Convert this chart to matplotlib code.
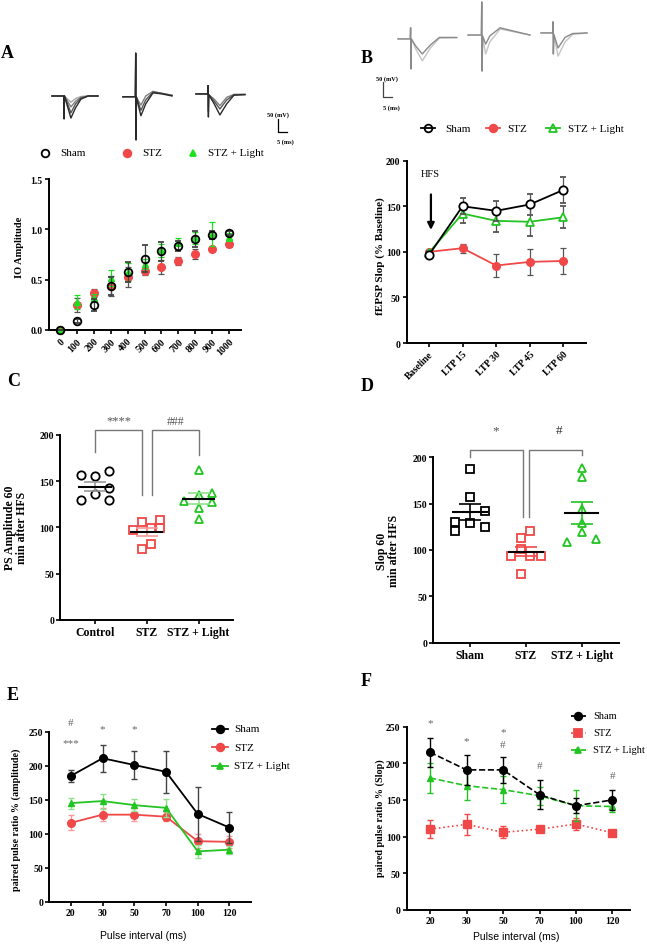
import numpy as np
import matplotlib.pyplot as plt
from matplotlib.lines import Line2D

W, H = 647, 945
plt.rcParams['font.family'] = ['Liberation Serif', 'DejaVu Serif']

BLACK = 'black'
RED = '#f04848'
RED_L = '#f59b9b'
GREEN = '#22c422'
GREEN_A = '#1ee01e'
GREEN_L = '#8fe08f'
GRAY = '#777777'

# ---------------- data ----------------
# A: input/output curve
io_x = [0, 100, 200, 300, 400, 500, 600, 700, 800, 900, 1000]
io_sham = [0, 0.09, 0.245, 0.44, 0.58, 0.71, 0.78, 0.83, 0.90, 0.94, 0.965]
io_sham_err = [0, 0.02, 0.06, 0.09, 0.10, 0.13, 0.09, 0.05, 0.08, 0.04, 0.02]
io_stz = [0, 0.25, 0.37, 0.44, 0.53, 0.59, 0.63, 0.69, 0.755, 0.80, 0.85]
io_stz_err = [0, 0.07, 0.04, 0.10, 0.10, 0.04, 0.07, 0.04, 0.05, 0.02, 0.03]
io_light = [0, 0.28, 0.32, 0.52, 0.58, 0.66, 0.79, 0.87, 0.91, 0.95, 0.92]
io_light_err = [0, 0.07, 0.04, 0.08, 0.09, 0.05, 0.06, 0.04, 0.06, 0.12, 0.04]

# A / B example traces (ms, mV)
a_tr1_t = [3.9, 10.4, 10.6, 10.8, 12.5, 14.4, 17.0, 20.0, 24.0, 29.4]
a_tr1_v = [[0, 0, -88, 0, -40, -85, -45, -12, 0, 0],
           [0, 0, -88, 0, -30, -65, -30, -8, 0, 0],
           [0, 0, -60, 0, -20, -42, -20, -5, 0, 0],
           [0, 0, -40, 0, -12, -24, -10, -2, 0, 0]]
a_tr2_t = [43.3, 50.2, 50.4, 50.6, 50.8, 52.0, 53.3, 56.0, 60.0, 65.0, 70.6]
a_tr2_v = [[-3, -3, 165, -169, -5, -40, -76, -30, 12, 8, 0],
           [-3, -3, 165, -169, -5, -30, -55, -15, 15, 10, 2],
           [-3, -3, 120, -120, -5, -20, -35, 0, 18, 10, 3]]
a_tr3_t = [83.9, 90.4, 90.6, 90.8, 91.0, 94.0, 97.2, 101.0, 105.0, 111.1]
a_tr3_v = [[8, 8, 40, -81, 5, -30, -73, -30, 3, 5],
           [8, 8, 40, -60, 5, -20, -50, -15, 5, 6],
           [8, 8, 30, -40, 5, -12, -37, -5, 6, 6]]

b_tr1_t = [10, 16.8, 17.0, 17.2, 17.4, 20.0, 23.5, 28.0, 33.0, 42.6]
b_tr1_v = [[0, 0, 37, -100, 0, -25, -50, -20, 5, 5],
           [0, 0, 37, -100, 0, -35, -73, -30, 3, 4]]
b_tr2_t = [48.9, 56.3, 56.5, 56.7, 57.0, 58.7, 61.0, 66.7, 75.0, 83.3]
b_tr2_v = [[13, 13, 123, -107, 10, -17, 10, 37, 25, 13],
           [13, 13, 123, -107, 5, -50, -10, 33, 23, 13]]
b_tr3_t = [89.4, 95.9, 96.1, 96.3, 96.6, 98.9, 102.8, 107.0, 115.0]
b_tr3_v = [[20, 20, 57, -50, 15, -30, 5, 18, 20],
           [20, 20, 57, -50, 10, -57, -10, 15, 20]]

# B: LTP time course
ltp_labels = ['Baseline', 'LTP 15', 'LTP 30', 'LTP 45', 'LTP 60']
ltp_sham = [96.5, 150, 145, 152, 168]
ltp_sham_err = [2, 9, 11, 12, 14]
ltp_stz = [100, 104, 85, 89, 90]
ltp_stz_err = [2, 5, 13, 14, 14]
ltp_light = [99, 142, 134, 133, 138]
ltp_light_err = [2, 10, 12, 16, 12]

# C: PS amplitude 60 min after HFS
c_groups = ['Control', 'STZ', 'STZ + Light']
c_control = [156, 155, 161, 130, 136, 142, 130]
c_stz = [97.5, 105.5, 99, 108, 99, 77, 82]
c_light = [162, 135, 128.5, 137, 127, 121, 109]
c_means = [144, 95, 131]
c_sems = [5, 4, 6]

# D: slope 60 min after HFS
d_groups = ['Sham', 'STZ', 'STZ + Light']
d_sham = [187, 157, 130, 120, 129, 142, 125]
d_stz = [112.6, 120.5, 101, 93, 93, 93, 74]
d_light = [188.6, 178.6, 144, 129, 119, 108, 112]
d_means = [141, 98, 140]
d_sems = [9, 5, 12]

# E / F: paired pulse ratio
ppr_labels = ['20', '30', '50', '70', '100', '120']
e_sham = [185, 211, 201, 191, 129, 109]
e_sham_err = [9, 20, 20, 31, 39, 23]
e_stz = [116, 128, 128, 125, 89, 88]
e_stz_err = [11, 10, 10, 7, 10, 9]
e_light = [145, 148, 142, 138, 74, 76.5]
e_light_err = [8, 11, 9, 13, 9, 6]

f_sham = [215, 191, 191, 157, 142, 150]
f_sham_err = [20, 21, 18, 20, 10, 14]
f_stz = [110, 116.6, 105.7, 110, 117, 105]
f_stz_err = [12, 14, 8, 3, 8, 2]
f_light = [180, 169.4, 164, 155.7, 142, 141]
f_light_err = [21, 19, 18, 12, 21, 8]

# jitter of scatter points within a column (layout only)
c_jit = [[-0.27, 0, 0.27, -0.27, 0, 0.27, 0.27],
         [-0.26, -0.085, 0.083, 0.26, 0.26, -0.085, 0.083],
         [0, 0, -0.28, 0.26, 0.26, 0, 0]]
d_jit = [[0, 0, -0.27, -0.27, 0, 0.26, 0.26],
         [-0.085, 0.08, -0.085, -0.26, 0.08, 0.27, -0.085],
         [0, 0, 0, 0, 0, -0.27, 0.26]]

# ---------------- helpers ----------------
fig = plt.figure(figsize=(W / 100, H / 100), dpi=100)


def box(l, t, r, b):
    return [l / W, 1 - b / H, (r - l) / W, (b - t) / H]


def fx(x):
    return x / W


def fy(y):
    return 1 - y / H


def style(ax, size=7):
    for s in ['top', 'right']:
        ax.spines[s].set_visible(False)
    for s in ['left', 'bottom']:
        ax.spines[s].set_linewidth(1.4)
    ax.tick_params(width=1.2, length=3, labelsize=size, pad=1.5)
    for lab in ax.get_xticklabels() + ax.get_yticklabels():
        lab.set_fontweight('bold')


def letter(x, y, s):
    fig.text(fx(x), fy(y), s, fontsize=13, fontweight='bold', ha='left', va='center')


def ylab(x, y, s, size=8):
    fig.text(fx(x), fy(y), s, rotation=90, ha='center', va='center',
             fontsize=size, fontweight='bold', linespacing=1.1)


def legend_item(xm, y, xt, label, color, marker, mfc, ms, ls='-', line=None, size=8):
    if line is not None:
        fig.add_artist(Line2D([fx(line[0]), fx(line[1])], [fy(y), fy(y)], color=color,
                              ls=ls, lw=1.3, transform=fig.transFigure))
    fig.add_artist(Line2D([fx(xm)], [fy(y)], marker=marker, color=color, mfc=mfc,
                          mec=color, ms=ms, mew=1.3, ls='none', transform=fig.transFigure))
    fig.text(fx(xt), fy(y), label, fontsize=size, ha='left', va='center')


# ---------------- A traces ----------------
axAt = fig.add_axes(box(45, 45, 300, 150))
axAt.axis('off')
axAt.set_xlim(0, 141.7)
axAt.set_ylim(-204, 200)
shades = ['#2a2a2a', '#555555', '#808080', '#a8a8a8']
for t, vs in [(a_tr1_t, a_tr1_v), (a_tr2_t, a_tr2_v), (a_tr3_t, a_tr3_v)]:
    for i, v in enumerate(vs[::-1]):
        axAt.plot(t, v, color=shades[len(vs) - 1 - i], lw=1.0)
axAt.plot([129.4, 129.4, 134.4], [-88.5, -138.5, -138.5], color='black', lw=0.9)
fig.text(fx(278), fy(115), '50 (mV)', fontsize=4.5, fontweight='bold', ha='center', va='center')
fig.text(fx(285), fy(142), '5 (ms)', fontsize=4.5, fontweight='bold', ha='center', va='center')

legend_item(45, 154, 60, 'Sham', BLACK, 'o', 'none', 5.5)
legend_item(127, 154, 142, 'STZ', RED, 'o', RED, 5.5)
legend_item(193, 154, 208, 'STZ + Light', GREEN_A, '^', GREEN_A, 5)

# ---------------- A ----------------
axA = fig.add_axes(box(49, 180, 241, 331))
axA.errorbar(io_x, io_stz, yerr=io_stz_err, fmt='o', color=RED, ms=5.5, ecolor='#555555',
             elinewidth=0.9, capsize=2.5, capthick=0.9, clip_on=False, zorder=3)
axA.errorbar(io_x, io_light, yerr=io_light_err, fmt='^', color=GREEN_A, ms=5, ecolor=GREEN_A,
             elinewidth=0.9, capsize=2.5, capthick=0.9, clip_on=False, zorder=4)
axA.errorbar(io_x, io_sham, yerr=io_sham_err, fmt='o', color=BLACK, mfc='none', ms=5.5, mew=1.3,
             ecolor='#444444', elinewidth=0.9, capsize=2.5, capthick=0.9, clip_on=False, zorder=5)
axA.set_xlim(-65, 1070)
axA.set_ylim(0, 1.5)
axA.set_yticks([0, 0.5, 1.0, 1.5])
axA.set_yticklabels(['0.0', '0.5', '1.0', '1.5'])
axA.set_xticks(io_x)
axA.set_xticklabels([str(v) for v in io_x], rotation=45, ha='right', rotation_mode='anchor')
style(axA, 7)
ylab(19, 247, 'IO Amplitude', 7.5)
letter(1, 53, 'A')

# ---------------- B traces ----------------
axBt = fig.add_axes(box(380, 0, 600, 115))
axBt.axis('off')
axBt.set_xlim(0, 122.2)
axBt.set_ylim(-250, 133)
for t, vs in [(b_tr1_t, b_tr1_v), (b_tr2_t, b_tr2_v), (b_tr3_t, b_tr3_v)]:
    axBt.plot(t, vs[1], color='#c4c4c4', lw=1.0)
    axBt.plot(t, vs[0], color='#8a8a8a', lw=1.0)
axBt.plot([1.67, 1.67, 6.67], [-143, -193, -193], color='#444444', lw=0.9)
fig.text(fx(387), fy(79), '50 (mV)', fontsize=4.5, fontweight='bold', ha='center', va='center')
fig.text(fx(391), fy(108), '5 (ms)', fontsize=4.5, fontweight='bold', ha='center', va='center')

legend_item(428, 129, 445, 'Sham', BLACK, 'o', 'none', 5.5, line=(421, 435))
legend_item(492.7, 129, 507, 'STZ', RED, 'o', RED, 5.5, line=(486, 500))
legend_item(553, 129, 568, 'STZ + Light', GREEN, '^', 'none', 5.5, line=(546, 560))

# ---------------- B ----------------
axB = fig.add_axes(box(406.7, 161.7, 585.7, 344))
xb = np.arange(len(ltp_labels))
axB.errorbar(xb, ltp_stz, yerr=ltp_stz_err, fmt='-o', color=RED, ms=5.5, ecolor='#555555',
             elinewidth=0.9, capsize=2.5, capthick=0.9, lw=1.3, zorder=3)
axB.errorbar(xb, ltp_light, yerr=ltp_light_err, fmt='-^', color=GREEN, mfc='white', ms=6, mew=1.3,
             ecolor='#555555', elinewidth=0.9, capsize=2.5, capthick=0.9, lw=1.3, zorder=4)
axB.errorbar(xb, ltp_sham, yerr=ltp_sham_err, fmt='-o', color=BLACK, mfc='white', ms=6, mew=1.3,
             ecolor='#555555', elinewidth=0.9, capsize=2.5, capthick=0.9, lw=1.3, zorder=5)
axB.set_xlim(-0.66, 4.66)
axB.set_ylim(0, 200)
axB.set_yticks([0, 50, 100, 150, 200])
axB.set_xticks(xb)
axB.set_xticklabels(ltp_labels, rotation=45, ha='right', rotation_mode='anchor')
style(axB, 7)
axB.annotate('', xy=(0.06, 121), xytext=(0.06, 166),
             arrowprops=dict(arrowstyle='-|>', color='black', lw=1.6, mutation_scale=10))
axB.text(0.03, 186, 'HFS', fontsize=7.5, ha='center', va='center')
ylab(380, 256, 'fEPSP Slop (% Baseline)', 8)
letter(361, 58.5, 'B')


# ---------------- C / D ----------------
def scatter_panel(ax, groups, vals, jit, means, sems, markers, colors, sem_colors, ms):
    for i, (v, j) in enumerate(zip(vals, jit)):
        ax.plot(np.array(j) + i, v, ls='none', marker=markers[i], mfc='none', mec=colors[i],
                mew=1.3, ms=ms, zorder=3)
        ax.errorbar([i], [means[i]], yerr=[sems[i]], fmt='none', ecolor=sem_colors[i],
                    elinewidth=1.2, capsize=8, capthick=1.2, zorder=4)
        ax.plot([i - 0.3, i + 0.3], [means[i], means[i]], color='black', lw=1.5, zorder=5)
    ax.set_xticks(range(len(groups)))
    ax.set_xticklabels(groups)


axC = fig.add_axes(box(60.3, 435.7, 233.3, 621))
scatter_panel(axC, c_groups, [c_control, c_stz, c_light], c_jit, c_means, c_sems,
              ['o', 's', '^'], [BLACK, RED, GREEN], ['#999999', RED_L, GREEN_L], 6)
axC.set_xlim(-0.67, 2.67)
axC.set_ylim(0, 200)
axC.set_yticks([0, 50, 100, 150, 200])
style(axC, 7)
for lab in axC.get_xticklabels():
    lab.set_fontsize(8.5)
axC.plot([0, 0, 1 - 0.085, 1 - 0.085], [181, 205, 205, 135], color=GRAY, lw=1, clip_on=False)
axC.plot([1 + 0.11, 1 + 0.11, 2, 2], [135, 205, 205, 178], color=GRAY, lw=1, clip_on=False)
axC.text(0.47, 215, '****', fontsize=9, color='#555555', ha='center', va='center')
axC.text(1.55, 215, '###', fontsize=8.5, color='#555555', ha='center', va='center')
ylab(16, 528, 'PS Amplitude 60\nmin after HFS', 8.5)
letter(7, 382, 'C')

axD = fig.add_axes(box(433.3, 458.3, 619, 643.5))
scatter_panel(axD, d_groups, [d_sham, d_stz, d_light], d_jit, d_means, d_sems,
              ['s', 's', '^'], [BLACK, RED, GREEN], [BLACK, RED, GREEN], 6)
axD.set_xlim(-0.66, 2.67)
axD.set_ylim(0, 200)
axD.set_yticks([0, 50, 100, 150, 200])
style(axD, 7)
for lab in axD.get_xticklabels():
    lab.set_fontsize(8.5)
axD.plot([0, 0, 1 - 0.05, 1 - 0.05], [200, 208, 208, 135], color=GRAY, lw=1, clip_on=False)
axD.plot([1 + 0.065, 1 + 0.065, 2, 2], [135, 208, 208, 203], color=GRAY, lw=1, clip_on=False)
axD.text(0.46, 229, '*', fontsize=9.5, color='#555555', ha='center', va='center')
axD.text(1.6, 230, '#', fontsize=9.5, color='#333333', ha='center', va='center')
ylab(388, 551, 'Slop 60\nmin after HFS', 8.5)
letter(361, 387, 'D')

# ---------------- E ----------------
axE = fig.add_axes(box(49.3, 732.7, 251, 902.7))
xe = np.arange(len(ppr_labels))
axE.errorbar(xe, e_stz, yerr=e_stz_err, fmt='-o', color=RED, ms=5.5, ecolor=RED_L,
             elinewidth=1, capsize=2.5, capthick=1, lw=1.3, zorder=3)
axE.errorbar(xe, e_light, yerr=e_light_err, fmt='-^', color=GREEN, ms=5, ecolor=GREEN_L,
             elinewidth=1, capsize=2.5, capthick=1, lw=1.3, zorder=4)
axE.errorbar(xe, e_sham, yerr=e_sham_err, fmt='-o', color=BLACK, ms=5.5, ecolor='#444444',
             elinewidth=1, capsize=2.5, capthick=1, lw=1.3, zorder=5)
axE.set_xlim(-0.68, 5.68)
axE.set_ylim(0, 250)
axE.set_yticks([0, 50, 100, 150, 200, 250])
axE.set_xticks(xe)
axE.set_xticklabels(ppr_labels)
style(axE, 7)
for x, y, s in [(0, 263, '#'), (0, 234, '***'), (1, 254, '*'), (2, 254, '*')]:
    axE.text(x, y, s, fontsize=8, color='#666666', ha='center', va='center', clip_on=False)
legend_item(220, 730, 234, 'Sham', BLACK, 'o', BLACK, 5.5, line=(212, 228))
legend_item(220, 748.3, 234, 'STZ', RED, 'o', RED, 5.5, line=(212, 228))
legend_item(220, 766.7, 234, 'STZ + Light', GREEN, '^', GREEN, 5, line=(212, 228))
fig.text(fx(143.5), fy(936), 'Pulse interval (ms)', fontsize=7.5, family='Liberation Sans',
         ha='center', va='center')
ylab(16.5, 820, 'paired pulse ratio % (amplitude)', 7.3)
letter(7, 695, 'E')

# ---------------- F ----------------
axF = fig.add_axes(box(406.7, 727.7, 630, 910.7))
axF.errorbar(xe, f_stz, yerr=f_stz_err, fmt=':s', color=RED, ms=5.5, ecolor=RED,
             elinewidth=1, capsize=2.5, capthick=1, lw=1.2, zorder=3)
axF.errorbar(xe, f_light, yerr=f_light_err, fmt='--^', color=GREEN, ms=5, ecolor=GREEN,
             elinewidth=1, capsize=2.5, capthick=1, lw=1.2, zorder=4)
axF.errorbar(xe, f_sham, yerr=f_sham_err, fmt='--o', color=BLACK, ms=5.5, ecolor=BLACK,
             elinewidth=1, capsize=2.5, capthick=1, lw=1.2, zorder=5)
axF.set_xlim(-0.64, 5.48)
axF.set_ylim(0, 250)
axF.set_yticks([0, 50, 100, 150, 200, 250])
axF.set_xticks(xe)
axF.set_xticklabels(ppr_labels)
style(axF, 7)
for x, y, s in [(0, 255, '*'), (1, 231, '*'), (2, 243, '*'), (2, 225, '#'), (3, 197, '#'), (5, 184, '#')]:
    axF.text(x, y, s, fontsize=8, color='#666666', ha='center', va='center', clip_on=False)
legend_item(578.3, 716.7, 593, 'Sham', BLACK, 'o', BLACK, 5.5, ls='--', line=(571, 586), size=7.5)
legend_item(578.3, 734, 593, 'STZ', RED, 's', RED, 5.5, ls=':', line=(571, 586), size=7.5)
legend_item(578.3, 751, 593, 'STZ + Light', GREEN, '^', GREEN, 5, ls='--', line=(571, 586), size=7.5)
fig.text(fx(516), fy(937.5), 'Pulse interval (ms)', fontsize=7.5, family='Liberation Sans',
         ha='center', va='center')
ylab(380, 818, 'paired pulse ratio % (Slop)', 7.3)
letter(361, 682, 'F')

fig.savefig('out.png', dpi=100)
